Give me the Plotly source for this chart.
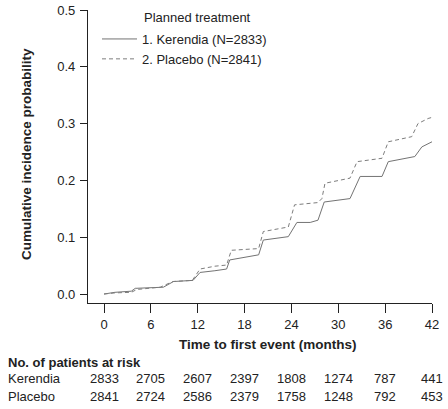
import plotly.graph_objects as go

# Data
ker_t = [0, 1.4, 3.5, 4.0, 7.6, 8.9, 11.4, 12.3, 14.2, 15.7, 16.1, 19.8, 20.4, 23.6, 24.7, 26.4, 27.4, 28.2, 31.5, 32.8, 35.6, 36.4, 39.8, 40.7, 42.0]
ker_p = [0, 0.003, 0.005, 0.010, 0.012, 0.022, 0.024, 0.038, 0.041, 0.044, 0.060, 0.069, 0.095, 0.101, 0.126, 0.126, 0.130, 0.162, 0.168, 0.207, 0.207, 0.233, 0.242, 0.259, 0.268]
pla_t = [0, 1.4, 3.5, 4.2, 7.2, 8.8, 11.3, 12.3, 14.2, 15.7, 16.3, 19.8, 20.4, 23.6, 24.4, 27.4, 27.9, 28.3, 31.5, 32.4, 35.6, 36.4, 39.4, 40.2, 41.5, 42.0]
pla_p = [0, 0.002, 0.003, 0.008, 0.012, 0.022, 0.024, 0.044, 0.049, 0.051, 0.077, 0.080, 0.110, 0.118, 0.157, 0.161, 0.168, 0.195, 0.204, 0.233, 0.239, 0.268, 0.277, 0.300, 0.309, 0.311]

x_ticks = [0, 6, 12, 18, 24, 30, 36, 42]
y_ticks = [0.0, 0.1, 0.2, 0.3, 0.4, 0.5]
y_tick_labels = ["0.0", "0.1", "0.2", "0.3", "0.4", "0.5"]
risk_groups = ["Kerendia", "Placebo"]
risk_ker = [2833, 2705, 2607, 2397, 1808, 1274, 787, 441]
risk_pla = [2841, 2724, 2586, 2379, 1758, 1248, 792, 453]
legend_names = ["1. Kerendia (N=2833)", "2. Placebo (N=2841)"]

FONT = "Liberation Sans, Arial, sans-serif"
TXT = "#222"
W, H = 448, 409
L, R, T, B = 88, 16, 10, 106
PW, PH = W - L - R, H - T - B

def px_x(p):
    return (p - L) / PW

def px_y(p):
    return (H - B - p) / PH

fig = go.Figure()
fig.add_trace(go.Scatter(x=ker_t, y=ker_p, mode="lines", name=legend_names[0],
                         line=dict(color="#737373", width=1)))
fig.add_trace(go.Scatter(x=pla_t, y=pla_p, mode="lines", name=legend_names[1],
                         line=dict(color="#7d7d7d", width=1, dash="4px,3px")))

fig.update_layout(
    width=W, height=H,
    margin=dict(l=L, r=R, t=T, b=B, pad=0, autoexpand=False),
    paper_bgcolor="white", plot_bgcolor="white",
    font=dict(family=FONT, size=13, color=TXT),
    showlegend=True,
    legend=dict(x=px_x(97), y=px_y(24), xanchor="left", yanchor="top",
                bgcolor="rgba(0,0,0,0)", borderwidth=0,
                font=dict(size=13, color=TXT), itemwidth=35,
                tracegroupgap=0),
)
fig.update_xaxes(range=[-2.05, 42], tickvals=x_ticks, ticktext=[str(v) for v in x_ticks],
                 showline=True, linecolor=TXT, linewidth=1.3, automargin=False,
                 ticks="outside", ticklen=9, tickwidth=1.3, tickcolor=TXT,
                 showgrid=False, zeroline=False, tickfont=dict(size=13, color=TXT))
fig.update_yaxes(range=[-0.0158, 0.5], tickvals=y_ticks, ticktext=y_tick_labels,
                 showline=True, linecolor=TXT, linewidth=1.3, automargin=False,
                 ticks="outside", ticklen=7, tickwidth=1.3, tickcolor=TXT,
                 showgrid=False, zeroline=False, tickfont=dict(size=13, color=TXT),
                 ticklabelstandoff=2)

def note(text, x, y, xref="paper", xanchor="left", size=13, **kw):
    return dict(text=text, x=x, y=y, xref=xref, yref="paper", xanchor=xanchor,
                yanchor="middle", showarrow=False, font=dict(size=size, color=TXT), **kw)

ann = []
ann.append(note("<b>Cumulative incidence probability</b>", px_x(26), px_y(154),
                xanchor="center", textangle=-90, size=13.5))
ann.append(note("<b>Time to first event (months)</b>", 21, px_y(344), xref="x",
                xanchor="center", size=13.5))
ann.append(note("Planned treatment", px_x(142), px_y(18)))
ann.append(note("<b>No. of patients at risk</b>", px_x(6), px_y(362)))
for gname, vals, ypx in [(risk_groups[0], risk_ker, 379), (risk_groups[1], risk_pla, 397)]:
    ann.append(note(gname, px_x(6), px_y(ypx)))
    for t, v in zip(x_ticks, vals):
        ann.append(note(str(v), t, px_y(ypx), xref="x", xanchor="center"))
fig.update_layout(annotations=ann)

fig.write_html("out.html")
